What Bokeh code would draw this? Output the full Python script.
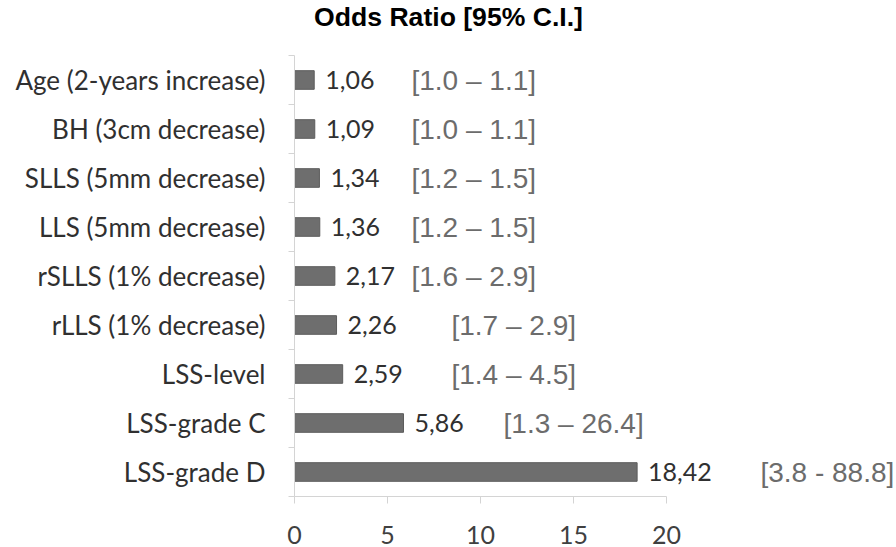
import numpy as np
from bokeh.plotting import figure
from bokeh.models import Range1d, FixedTicker, ColumnDataSource, Label
from bokeh.core.properties import value
from bokeh.embed import file_html
from bokeh.resources import INLINE

title = "Odds Ratio [95% C.I.]"
categories = ["Age (2-years increase)", "BH (3cm decrease)", "SLLS (5mm decrease)",
              "LLS (5mm decrease)", "rSLLS (1% decrease)", "rLLS (1% decrease)",
              "LSS-level", "LSS-grade C", "LSS-grade D"]
odds = [1.06, 1.09, 1.34, 1.36, 2.17, 2.26, 2.59, 5.86, 18.42]
ci_text = ["[1.0 \u2013 1.1]", "[1.0 \u2013 1.1]", "[1.2 \u2013 1.5]", "[1.2 \u2013 1.5]",
           "[1.6 \u2013 2.9]", "[1.7 \u2013 2.9]", "[1.4 \u2013 4.5]", "[1.3 \u2013 26.4]",
           "[3.8 - 88.8]"]
x_ticks = [0, 5, 10, 15, 20]

# layout: where each CI label starts (data units along the x axis)
ci_label_x = [6.29, 6.29, 6.29, 6.29, 6.29, 8.44, 8.44, 11.24, 25.05]

n = len(categories)
ys = list(range(n - 1, -1, -1))  # first category on top
bounds = [i - 0.5 for i in range(n + 1)]

src = ColumnDataSource(dict(
    y=ys, odds=odds,
    vlab=[f"{v:.2f}".replace(".", ",") for v in odds],
    ci=ci_text, cx=ci_label_x,
))

# 49 px per category band; the frame extends 55 px above the bars to hold the title
band_px = 49.0
top_extra = 55 / band_px
p = figure(width=896, height=547, output_backend="svg", toolbar_location=None,
           x_range=Range1d(0, 602 / 18.6), y_range=Range1d(-0.5, n - 0.5 + top_extra),
           min_border_left=294, min_border_right=0, min_border_top=0,
           min_border_bottom=51)
p.outline_line_color = None
p.xgrid.visible = False
p.ygrid.visible = False

p.add_layout(Label(x=(448 - 294) / 18.6, y=n - 0.5 + 39 / band_px, text=title,
                   text_align="center", text_baseline="middle",
                   text_font="Liberation Sans", text_font_style="bold",
                   text_font_size="26.6px", text_color="#000000"))

p.hbar(y="y", right="odds", left=0, height=0.38, source=src,
       fill_color="#6e6e6e", line_color="#5c5c5c", line_width=1)

p.text(x="odds", y="y", text="vlab", source=src, x_offset=11,
       text_baseline="middle", text_align="left",
       text_font=value("Lato"), text_font_size="25px", text_color="#303030")

p.text(x="cx", y="y", text="ci", source=src,
       text_baseline="middle", text_align="left",
       text_font=value("Liberation Sans"), text_font_size="28px", text_color="#6c6c6c")

xa = p.xaxis[0]
xa.ticker = FixedTicker(ticks=x_ticks, minor_ticks=[])
xa.bounds = (0, 20)
xa.axis_line_color = "#d4d4d4"
xa.major_tick_line_color = "#d4d4d4"
xa.major_tick_out = 7
xa.major_tick_in = 0
xa.minor_tick_line_color = None
xa.major_label_text_font = "Lato"
xa.major_label_text_font_size = "25px"
xa.major_label_text_color = "#404040"
xa.major_label_standoff = 22

ya = p.yaxis[0]
ya.ticker = FixedTicker(ticks=[float(v) for v in ys], minor_ticks=bounds)
ya.major_label_overrides = {float(y): c for y, c in zip(ys, categories)}
ya.bounds = (-0.5, n - 0.5)
ya.axis_line_color = "#d4d4d4"
ya.major_tick_line_color = None
ya.major_tick_out = 0
ya.major_tick_in = 0
ya.minor_tick_line_color = "#d4d4d4"
ya.minor_tick_out = 6
ya.minor_tick_in = 0
ya.major_label_text_font = "Lato"
ya.major_label_text_font_size = "26px"
ya.major_label_text_color = "#303030"
ya.major_label_standoff = 23

open("out.html", "w").write(file_html(p, INLINE))
